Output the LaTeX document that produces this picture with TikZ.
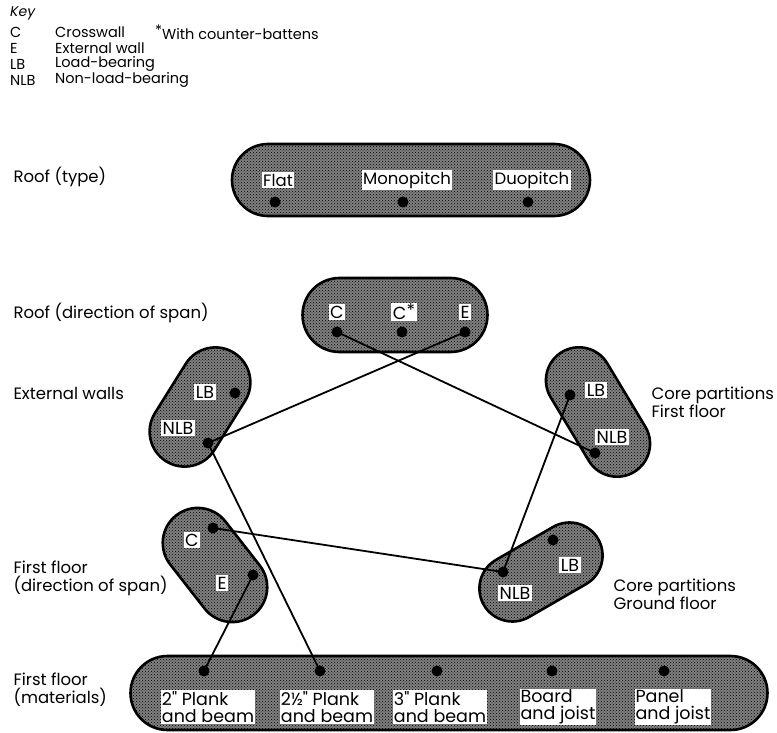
\documentclass[tikz,border=0pt]{standalone}
\usepackage{fontspec}
\setmainfont{Poppins}[Ligatures=TeXOff]
\usetikzlibrary{shapes.misc, patterns}

\begin{document}
\begin{tikzpicture}[
    x=1pt, y=-1pt,
    zone/.style={draw, line width=2.6pt, fill=black!50, rounded rectangle, inner sep=0pt,
      postaction={pattern=crosshatch dots, pattern color=black}},
    tag/.style={fill=white, inner sep=1.5pt, font=\fontsize{17.5}{18}\selectfont},
    mtag/.style={tag, align=left, inner sep=1pt, font=\fontsize{17.5}{17}\selectfont},
    pin/.style={circle, fill=black, inner sep=0pt, minimum size=11pt},
    caption/.style={anchor=west, align=left, font=\fontsize{16.5}{18}\selectfont},
    keyrow/.style={anchor=west, inner sep=0pt, font=\fontsize{14.5}{15}\selectfont},
    link/.style={line width=1.8pt}
]
  \useasboundingbox (0,0) rectangle (777,733);

  % key
  \node[keyrow, font=\fontsize{14}{14}\selectfont\itshape] (key) at (10,13) {Key};
  \node[keyrow] (kC) at (10,32) {C};
  \node[keyrow] (kCtxt) at (55,32) {Crosswall};
  \node[keyrow] (kStar) at (155,32) {\raisebox{0.5ex}{*}With counter-battens};
  \node[keyrow] (kE) at (10,48) {E};
  \node[keyrow] (kEtxt) at (55,48) {External wall};
  \node[keyrow] (kLB) at (10,64) {LB};
  \node[keyrow] (kLBtxt) at (55,64) {Load-bearing};
  \node[keyrow] (kNLB) at (10,80) {NLB};
  \node[keyrow] (kNLBtxt) at (55,80) {Non-load-bearing};

  % captions
  \node[caption] (cRtype) at (10,177) {Roof (type)};
  \node[caption] (cRspan) at (10,313) {Roof (direction of span)};
  \node[caption] (cExt) at (10,393) {External walls};
  \node[caption] (cFFspan) at (10,578) {First floor\\(direction of span)};
  \node[caption] (cFFmat) at (10,690) {First floor\\(materials)};
  \node[caption] (cCorF) at (648,402) {Core partitions\\First floor};
  \node[caption] (cCorG) at (610,594) {Core partitions\\Ground floor};

  % option sets
  \node[zone, minimum width=358pt, minimum height=72pt] (rtype) at (411,180) {};
  \node[zone, minimum width=185pt, minimum height=74pt] (rspan) at (395,315) {};
  \node[zone, minimum width=128pt, minimum height=70pt, rotate=58] (ext) at (200,407) {};
  \node[zone, minimum width=140pt, minimum height=66pt, rotate=-59] (corF) at (598,412) {};
  \node[zone, minimum width=126pt, minimum height=70pt, rotate=-52] (ffspan) at (215,565) {};
  \node[zone, minimum width=132pt, minimum height=66pt, rotate=30] (corG) at (541,572) {};
  \node[zone, minimum width=637pt, minimum height=74pt] (mat) at (449,693) {};

  % dots
  \node[pin] (tFlat) at (275,202) {};
  \node[pin] (tMono) at (403,202) {};
  \node[pin] (tDuo) at (528,202) {};
  \node[pin] (sC) at (337,332) {};
  \node[pin] (sCs) at (402,332) {};
  \node[pin] (sE) at (465,332) {};
  \node[pin] (eLB) at (235,393) {};
  \node[pin] (eNLB) at (208,443) {};
  \node[pin] (fLB) at (570,395) {};
  \node[pin] (fNLB) at (595,453) {};
  \node[pin] (dC) at (213,528) {};
  \node[pin] (dE) at (253,575) {};
  \node[pin] (gLB) at (553,540) {};
  \node[pin] (gNLB) at (503,572) {};
  \node[pin] (m1) at (204,671) {};
  \node[pin] (m2) at (320,671) {};
  \node[pin] (m3) at (437,671) {};
  \node[pin] (m4) at (552,671) {};
  \node[pin] (m5) at (664,671) {};

  % connections
  \draw[link] (sC.center) -- (fNLB.center);
  \draw[link] (sE.center) -- (eNLB.center);
  \draw[link] (eNLB.center) -- (m2.center);
  \draw[link] (dC.center) -- (gNLB.center);
  \draw[link] (dE.center) -- (m1.center);
  \draw[link] (fLB.center) -- (gNLB.center);

  % labels
  \node[tag, font=\fontsize{16.5}{17}\selectfont] (lFlat) at (278,180) {Flat};
  \node[tag, font=\fontsize{16.5}{17}\selectfont] (lMono) at (407,180) {Monopitch};
  \node[tag, font=\fontsize{16.5}{17}\selectfont] (lDuo) at (532,180) {Duopitch};
  \node[tag] (lsC) at (337,312) {C};
  \node[tag] (lsCs) at (404,312) {C\raisebox{0.3ex}{*}};
  \node[tag] (lsE) at (465,312) {E};
  \node[tag] (leLB) at (205,392) {LB};
  \node[tag] (leNLB) at (178,428) {NLB};
  \node[tag] (lfLB) at (596,390) {LB};
  \node[tag] (lfNLB) at (612,437) {NLB};
  \node[tag] (ldC) at (192,540) {C};
  \node[tag] (ldE) at (222,583) {E};
  \node[tag] (lgLB) at (570,565) {LB};
  \node[tag] (lgNLB) at (515,593) {NLB};
  \node[mtag] (lm1) at (208,707) {2" Plank\\and beam};
  \node[mtag] (lm2) at (327,707) {2½" Plank\\and beam};
  \node[mtag] (lm3) at (440,707) {3" Plank\\and beam};
  \node[mtag] (lm4) at (558,707) {Board\\and joist};
  \node[mtag] (lm5) at (673,707) {Panel\\and joist};
\end{tikzpicture}
\end{document}
